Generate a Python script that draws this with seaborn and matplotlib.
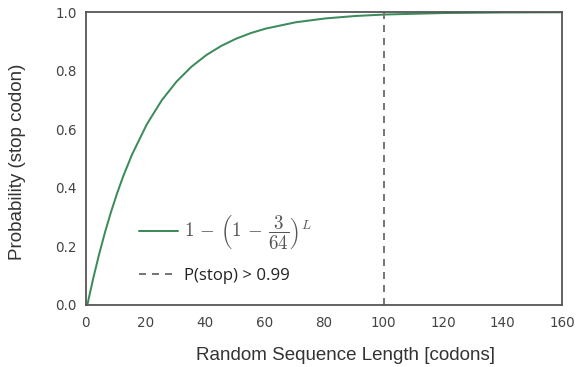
import numpy as np
import pandas as pd
import matplotlib
matplotlib.use("Agg")
import matplotlib.pyplot as plt
import seaborn as sns

# values
length = [0.5, 2.5, 4.5, 6.5, 8.5, 10.5, 12.5, 15.5, 20.5, 25.5, 30.5, 35.5, 40.5, 45.5, 50.5,
          55.5, 60.5, 70.5, 80.5, 90.5, 100.5, 120.5, 140.5, 160.5]
prob = [0.0, 0.0916, 0.1747, 0.2503, 0.3189, 0.3813, 0.4379, 0.5133, 0.6172, 0.6989,
        0.7631, 0.8137, 0.8535, 0.8847, 0.9093, 0.9287, 0.9439, 0.9653, 0.9785, 0.9867,
        0.9918, 0.9969, 0.9988, 0.9995]
threshold_x = 100
xticks = [0, 20, 40, 60, 80, 100, 120, 140, 160]
yticks = [0.0, 0.2, 0.4, 0.6, 0.8, 1.0]

df = pd.DataFrame({"L": length, "P": prob})

sns.set_theme(style="white")
plt.rcParams["font.family"] = ["Liberation Sans", "DejaVu Sans"]
plt.rcParams["mathtext.fontset"] = "cm"

fig, ax = plt.subplots(figsize=(8, 367 / 72), dpi=72)
fig.subplots_adjust(left=0.149, right=0.976, top=0.967, bottom=0.169)

sns.lineplot(data=df, x="L", y="P", ax=ax, color="#3b8c5a", linewidth=2,
             label=r"$1\,-\,\left(1\,-\,\dfrac{3}{64}\right)^{L}$")
ax.axvline(threshold_x, color="#777777", linestyle=(0, (3.5, 3)), linewidth=2,
           label="P(stop) > 0.99")

ax.set_xlim(0, 160)
ax.set_ylim(0, 1.0)
ax.set_xticks(xticks)
ax.set_yticks(yticks)
ax.set_xticklabels([str(v) for v in xticks], fontfamily="DejaVu Sans")
ax.set_yticklabels([f"{v:.1f}" for v in yticks], fontfamily="DejaVu Sans")
ax.tick_params(axis="both", labelsize=13.5, colors="#444444", length=0)
ax.tick_params(axis="x", pad=11)
ax.tick_params(axis="y", pad=9)
ax.set_xlabel("Random Sequence Length [codons]", fontsize=18.7, color="#333333")
ax.set_ylabel("Probability (stop codon)", fontsize=18.7, color="#333333")
ax.xaxis.set_label_coords(0.545, -0.145)
ax.yaxis.set_label_coords(-0.125, 0.49)

for s in ax.spines.values():
    s.set_color("#555555")
    s.set_linewidth(1.8)

leg = ax.legend(loc="lower left", bbox_to_anchor=(0.08, 0.02), frameon=False,
                fontsize=16.8, handlelength=2.3, handletextpad=0.4, labelspacing=1.0)
texts = leg.get_texts()
texts[0].set_color("#555555")
texts[0].set_fontsize(19)
texts[1].set_color("#222222")
texts[1].set_fontfamily("Open Sans")

fig.savefig("out.png", dpi=72)
